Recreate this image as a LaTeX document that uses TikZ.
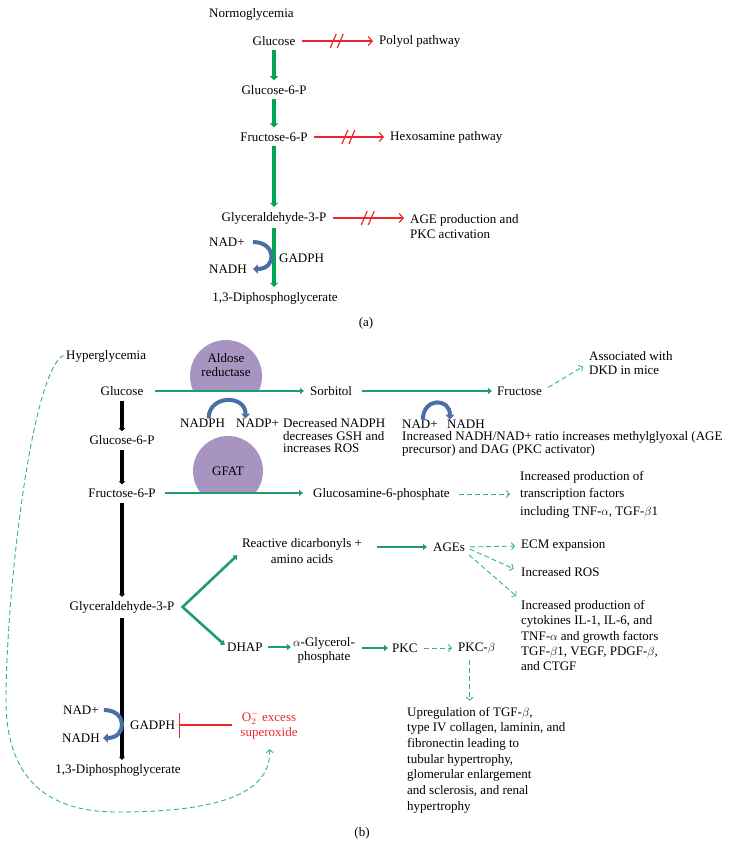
\documentclass[tikz,border=0pt]{standalone}
\usepackage{fontspec}
\setmainfont{Liberation Serif}
\usetikzlibrary{arrows.meta,positioning,calc}

\definecolor{glygreen}{RGB}{0,166,81}
\definecolor{hypgreen}{RGB}{32,156,110}
\definecolor{effgreen}{RGB}{50,185,110}
\definecolor{blockred}{RGB}{236,40,46}
\definecolor{cofblue}{RGB}{72,112,166}
\definecolor{enzpurple}{RGB}{168,148,192}

\tikzset{
	met/.style={inner sep=0pt, font=\fontsize{13}{15}\selectfont},
	note/.style={met, align=left, anchor=west},
	glyflow/.style={glygreen, line width=3.5pt, -{Triangle[length=4pt,width=8pt]}, shorten <=4pt, shorten >=5pt},
	hypflow/.style={hypgreen, line width=2.6pt, -{Triangle[length=4pt,width=6pt]}},
	glyblack/.style={black, line width=3.5pt, -{Triangle[length=3pt,width=6pt]}, shorten <=5pt, shorten >=4pt},
	blocked/.style={draw=blockred, line width=1.2pt, -{Straight Barb[length=4pt,width=9pt]}, shorten <=6pt, shorten >=6pt},
	inhibit/.style={draw=blockred, line width=1.2pt, -{Bar[width=25pt]}},
	effect/.style={effgreen, line width=0.9pt, dash pattern=on 5pt off 3pt, -{Straight Barb[length=3pt,width=7pt]}},
	cofactor/.style={cofblue, line width=4pt, -{Triangle[length=5pt,width=9pt]}},
	slashes/.pic={\draw[draw=blockred, line width=1.2pt] (-7,7)--(-1,-7) (0,7)--(6,-7);},
}

\begin{document}
\begin{tikzpicture}[x=1pt,y=-1pt]
	\useasboundingbox (0,0) rectangle (734,847);

	\node[note] (normo) at (209,14) {Normoglycemia};
	\node[met] (glcA) at (274,41) {Glucose};
	\node[met] (g6pA) at (274,90) {Glucose-6-P};
	\node[met] (f6pA) at (274,137) {Fructose-6-P};
	\node[met] (gapA) at (274,218) {Glyceraldehyde-3-P};
	\node[met] (dpgA) at (275,298) {1,3-Diphosphoglycerate};
	\node[note] (polA) at (379,41) {Polyol pathway};
	\node[note] (hexA) at (390,137) {Hexosamine pathway};
	\node[note] (ageA) at (410,226.5) {AGE production and\\PKC activation};
	\node[note] (nadA) at (209,242) {NAD+};
	\node[note] (nadhA) at (209,269) {NADH};
	\node[note] (gadphA) at (279,258) {GADPH};
	\node[met] (capA) at (366,323) {(a)};

	\draw[glyflow] (glcA) -- (g6pA);
	\draw[glyflow] (g6pA) -- (f6pA);
	\draw[glyflow] (f6pA) -- (gapA);
	\draw[glyflow] (gapA) -- (gapA |- dpgA.north);
	\draw[blocked] (glcA) -- coordinate[midway] (brk1) (polA);
	\draw[blocked] (f6pA) -- coordinate[midway] (brk2) (hexA);
	\draw[blocked] (gapA.east) -- coordinate[midway] (brk3) (gapA.east -| ageA.west);
	\pic at (brk1) {slashes};
	\pic at (brk2) {slashes};
	\pic at (brk3) {slashes};
	\draw[cofactor] ([xshift=8pt]nadA.east) .. controls +(24,0) and +(24,0) .. ([xshift=6pt]nadhA.east);

	\begin{scope}
		\clip (180,330) rectangle (280,389);
		\fill[enzpurple] (226,376) circle[radius=36];
	\end{scope}
	\begin{scope}
		\clip (180,430) rectangle (280,491);
		\fill[enzpurple] (228,471) circle[radius=35];
	\end{scope}

	\node[note] (hyper) at (66,356) {Hyperglycemia};
	\node[met, align=center, font=\fontsize{13}{14}\selectfont] (arTxt) at (226,365) {Aldose\\reductase};
	\node[met] (gfat) at (228,471) {GFAT};
	\node[met] (glcB) at (122,391) {Glucose};
	\node[met] (g6pB) at (122,440) {Glucose-6-P};
	\node[met] (f6pB) at (122,493) {Fructose-6-P};
	\node[met] (gapB) at (122,607) {Glyceraldehyde-3-P};
	\node[met] (dpgB) at (118,770) {1,3-Diphosphoglycerate};
	\node[note] (sorb) at (310,391) {Sorbitol};
	\node[note] (fru) at (497,391) {Fructose};
	\node[note, font=\fontsize{13}{14}\selectfont] (dkd) at (589,363) {Associated with\\DKD in mice};
	\node[note] (nadph) at (180,423) {NADPH};
	\node[note] (nadp) at (236,423) {NADP+};
	\node[note, font=\fontsize{13}{12.5}\selectfont] (decr) at (283,436) {Decreased NADPH\\decreases GSH and\\increases ROS};
	\node[note] (nadB) at (402,424) {NAD+};
	\node[note] (nadhB) at (447,424) {NADH};
	\node[note, font=\fontsize{13}{13.5}\selectfont] (ratio) at (402,444) {Increased NADH/NAD+ ratio increases methylglyoxal (AGE\\precursor) and DAG (PKC activator)};
	\node[note] (glcn) at (313,494) {Glucosamine-6-phosphate};
	\node[note, font=\fontsize{13}{17.5}\selectfont] (tf) at (520,494.5) {Increased production of\\transcription factors\\including TNF-$\alpha$, TGF-$\beta$1};
	\node[met, align=center, font=\fontsize{13}{16}\selectfont] (rdc) at (302,551) {Reactive dicarbonyls +\\amino acids};
	\node[note] (dhap) at (227,647) {DHAP};
	\node[met, align=center, font=\fontsize{13}{13.5}\selectfont] (agp) at (324,650.5) {$\alpha$-Glycerol-\\phosphate};
	\node[note] (pkc) at (392,648) {PKC};
	\node[note] (pkcb) at (458,648) {PKC-$\beta$};
	\node[note] (ages) at (433,547) {AGEs};
	\node[note] (ecm) at (521,546) {ECM expansion};
	\node[note] (ros) at (521,572) {Increased ROS};
	\node[note, font=\fontsize{13}{15.3}\selectfont] (cyt) at (521,635.5) {Increased production of\\cytokines IL-1, IL-6, and\\TNF-$\alpha$ and growth factors\\TGF-$\beta$1, VEGF, PDGF-$\beta$,\\and CTGF};
	\node[note, font=\fontsize{13}{15.7}\selectfont] (upreg) at (407,760) {Upregulation of TGF-$\beta$,\\type IV collagen, laminin, and\\fibronectin leading to\\tubular hypertrophy,\\glomerular enlargement\\and sclerosis, and renal\\hypertrophy};
	\node[note] (nadC) at (63,710) {NAD+};
	\node[note] (nadhC) at (62,738) {NADH};
	\node[note] (gadphC) at (130,725) {GADPH};
	\node[met, align=center, text=blockred, font=\fontsize{13}{15}\selectfont] (sox) at (269,725) {O$_2^-$ excess\\superoxide};
	\node[met] (capB) at (362,833) {(b)};
	\coordinate[right=8pt of gapB] (fork);

	\draw[glyblack] (glcB) -- (g6pB);
	\draw[glyblack] (g6pB) -- (f6pB);
	\draw[glyblack] (f6pB) -- (gapB);
	\draw[glyblack] (gapB) -- (gapB |- dpgB.north);
	\draw[hypflow, shorten <=11pt, shorten >=6pt] (glcB) -- (sorb);
	\draw[hypflow, shorten <=10pt, shorten >=5pt] (sorb) -- (fru);
	\draw[hypflow, shorten <=9pt, shorten >=10pt] (f6pB.east) -- (f6pB.east -| glcn.west);
	\draw[hypflow, {Triangle[length=4pt,width=6pt]}-{Triangle[length=4pt,width=6pt]}, shorten <=6pt, shorten >=3pt] (rdc.west) -- (fork) -- (dhap.west);
	\draw[hypflow, shorten <=15pt, shorten >=6pt] (ages.west -| rdc.east) -- (ages.west);
	\draw[hypflow, shorten <=5pt, shorten >=2pt] (dhap.east) -- (dhap.east -| agp.west);
	\draw[hypflow, shorten <=7pt, shorten >=4pt] (pkc.west -| agp.east) -- (pkc.west);
	\draw[effect, shorten <=7pt, shorten >=7pt] (fru.east) -- (dkd.west);
	\draw[effect, shorten <=9pt, shorten >=10pt] (glcn.east) -- (glcn.east -| tf.west);
	\draw[effect, shorten <=5pt, shorten >=6pt] (ages.east) -- (ecm.west);
	\draw[effect, shorten <=5pt, shorten >=8pt] (ages.east) -- (ros.west);
	\draw[effect, shorten <=5pt, shorten >=6pt] (ages.south east) -- (cyt.north west);
	\draw[effect, shorten <=6pt, shorten >=6pt] (pkc.east) -- (pkcb.west);
	\draw[effect, shorten <=6pt, shorten >=6pt] ([xshift=-7pt]pkcb.south) -- ([xshift=-7pt]pkcb.south |- upreg.north);
	\draw[effect, shorten <=2pt, shorten >=10pt] (hyper.west) -- ++(-4,0) .. controls (30,380) and (6,600) .. (6,700) .. controls (6,790) and (60,812) .. (117,812) .. controls (200,812) and (272,800) .. (sox.south);
	\draw[inhibit, shorten <=8pt, shorten >=4pt] (sox.west) -- (gadphC.east);
	\draw[cofactor] ([xshift=6pt]nadph.north) .. controls +(0,-24) and +(0,-24) .. ([xshift=-12pt]nadp.north);
	\draw[cofactor] ([xshift=3pt]nadB.north) .. controls +(0,-22) and +(0,-22) .. ([xshift=-16pt]nadhB.north);
	\draw[cofactor] ([xshift=5pt]nadC.east) .. controls +(24,0) and +(24,0) .. ([xshift=3pt]nadhC.east);

\end{tikzpicture}
\end{document}
